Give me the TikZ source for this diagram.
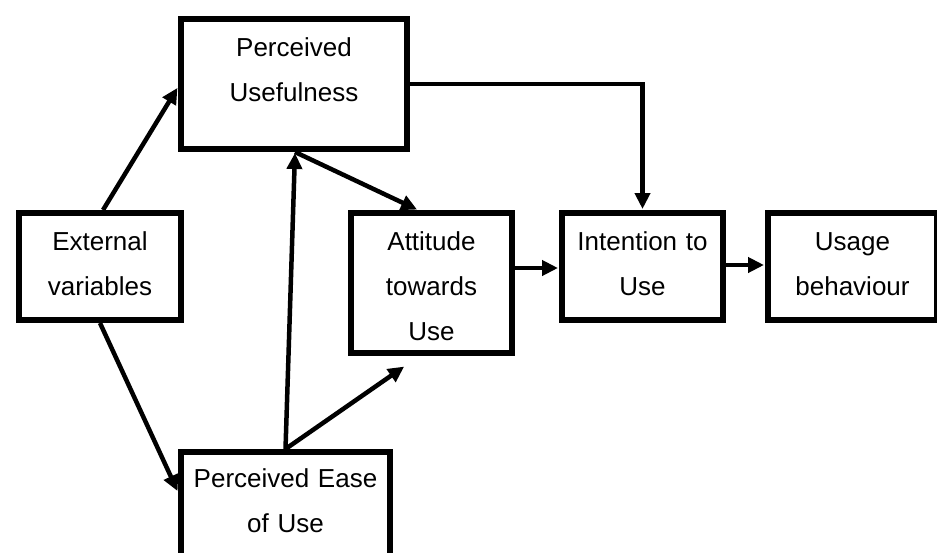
\documentclass[tikz,border=0pt]{standalone}
\usepackage{fontspec}
\setmainfont{Liberation Sans}
\usetikzlibrary{arrows.meta}

\begin{document}
\begin{tikzpicture}[x=1pt,y=-1pt,
    tambox/.style={draw,line width=6pt,inner sep=0pt,align=center,anchor=north west,
      font=\fontsize{26}{45}\selectfont,text height=37pt},
    link/.style={line width=4.5pt,-{Triangle[length=16pt,width=15pt]},shorten >=1pt}]
  \useasboundingbox (0,0) rectangle (937,552);
  % boxes:
  \node[tambox,text width=226pt,text depth=93pt] (PU) at (178,16) {Perceived\\Usefulness};
  \node[tambox,text width=162pt,text depth=70pt] (EV) at (16,210) {External\\variables};
  \node[tambox,text width=209pt,text height=35pt,text depth=81pt] (PEU) at (178,449) {Perceived Ease\\of Use};
  \node[tambox,text width=161pt,text depth=103pt] (AU) at (348,210) {Attitude\\towards\\Use};
  \node[tambox,text width=161pt,text depth=70pt] (IU) at (559,210) {Intention to\\Use};
  \node[tambox,text width=169pt,text depth=70pt] (UB) at (765,210) {Usage\\behaviour};
  \coordinate (AUin) at ([xshift=57pt,yshift=-10pt]AU.south west);

  % arrows:
  \draw[link] ([xshift=3pt]EV.north) -- ([yshift=-3pt]PU.west);
  \draw[link] (EV.south) -- ([yshift=-43pt]PEU.north west);
  \draw[link] (PEU.north) -- ([xshift=1pt]PU.south);
  \draw[link] (PEU.north) -- (AUin);
  \draw[link] ([xshift=1pt]PU.south) -- ([xshift=70pt]AU.north west);
  \draw[link] (PU.east) -| (IU.north);
  \draw[link] ([yshift=15pt]AU.east) -- ([yshift=-1.5pt]IU.west);
  \draw[link] ([yshift=1.5pt]IU.east) -- ([yshift=1.5pt]UB.west);
\end{tikzpicture}
\end{document}
